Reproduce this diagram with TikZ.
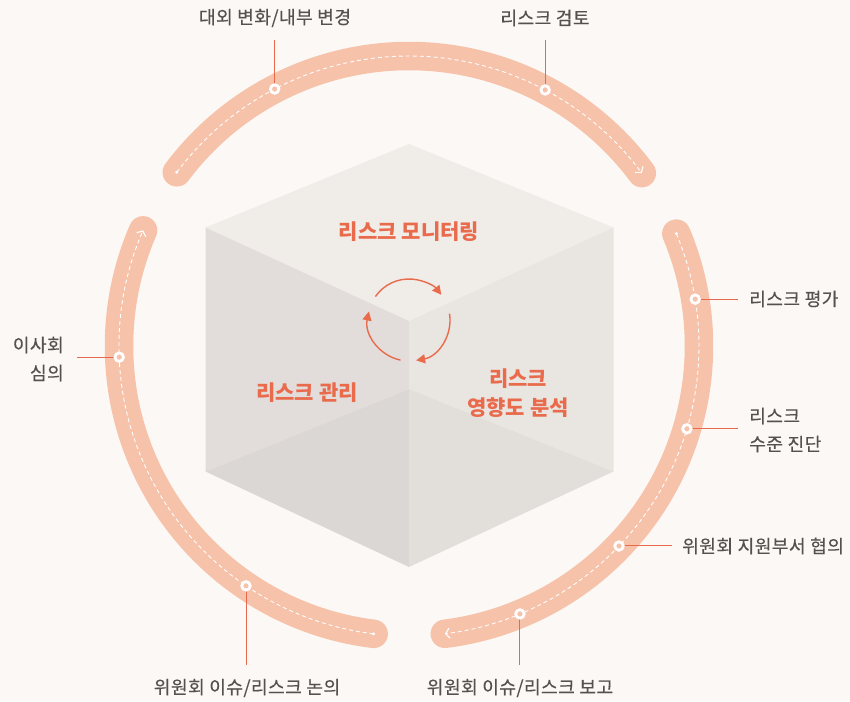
\documentclass[tikz,border=0pt]{standalone}
\usepackage{fontspec}
\newfontfamily\kr{Noto Sans CJK KR}
\newfontfamily\krm[FakeBold=0.35,LetterSpace=2]{Noto Sans CJK KR}
\usetikzlibrary{arrows.meta,calc}
\definecolor{bg}{HTML}{FCF8F5}
\definecolor{band}{HTML}{F6C2AA}
\definecolor{lead}{HTML}{E8694C}
\definecolor{txt}{HTML}{545250}
\definecolor{org}{HTML}{EA6A4C}
\definecolor{ftop}{HTML}{F0ECE8}
\definecolor{fleft}{HTML}{E2DDDA}
\definecolor{fright}{HTML}{E9E5E1}
\definecolor{flleft}{HTML}{DBD7D4}
\definecolor{flright}{HTML}{E2DEDA}
\begin{document}
\begin{tikzpicture}[x=1pt,y=-1pt,
  bandseg/.style={draw=band, line width=28.5pt, line cap=round},
  dashseg/.style={draw=white, line width=0.9pt, dash pattern=on 4pt off 3pt,
     -{Straight Barb[length=4pt,width=10pt,line width=1.1pt]}},
  mk/.style={circle, draw=white, line width=2.8pt, fill=band, minimum size=8.5pt, inner sep=0pt},
  ld/.style={draw=lead, line width=1pt},
  lbl/.style={text=txt, font=\krm\fontsize{18.2}{28}\selectfont, inner sep=0pt},
  cubetxt/.style={text=org, font=\kr\fontsize{21}{29}\selectfont\bfseries, inner sep=0pt, align=center},
  carr/.style={draw=org, line width=1.4pt, -{Triangle[length=9pt,width=9pt]}}]
\fill[bg] (0,0) rectangle (850,701);
\useasboundingbox (0,0) rectangle (850,701);

% cube
\coordinate (T) at (409,144);
\coordinate (LT) at (205.5,227.5);
\coordinate (RT) at (613.5,227.5);
\coordinate (Cc) at (409,321);
\coordinate (LB) at (205.5,471.5);
\coordinate (RB) at (613.5,471.5);
\coordinate (B) at (409,567);
\coordinate (M) at (409,389);
\fill[ftop] (T) -- (RT) -- (Cc) -- (LT) -- cycle;
\fill[fleft] (LT) -- (Cc) -- (M) -- (LB) -- cycle;
\fill[flleft] (LB) -- (M) -- (B) -- cycle;
\fill[fright] (Cc) -- (RT) -- (RB) -- (M) -- cycle;
\fill[flright] (M) -- (RB) -- (B) -- cycle;

% ring
\coordinate (O) at (409,346);
\foreach \a/\b in {-143.2/-36.6, -22.8/82.9, 97/203.5}{
  \draw[bandseg] ($(O)+(\a:290)$) arc[start angle=\a, end angle=\b, radius=290];
}
\foreach \a/\b in {-143.2/-36.6, -22.8/82.9, 97/203.5}{
  \draw[dashseg] ($(O)+(\a:290)$) arc[start angle=\a, end angle=\b, radius=290];
  \fill[white] ($(O)+(\a:290)$) circle (1.6);
}

% marker positions
\coordinate (p1) at ($(O)+(-117.6:290)$);
\coordinate (p2) at ($(O)+(-62.0:290)$);
\coordinate (p3) at ($(O)+(-182.2:290)$);
\coordinate (p4) at ($(O)+(-9.3:290)$);
\coordinate (p5) at ($(O)+(16.6:290)$);
\coordinate (p6) at ($(O)+(43.6:290)$);
\coordinate (p7) at ($(O)+(67.5:290)$);
\coordinate (p8) at ($(O)+(124.2:290)$);

% leader ends
\coordinate (e1) at (p1 |- 0,40);
\coordinate (e2) at (p2 |- 0,40);
\coordinate (e3) at (77,0 |- p3);
\coordinate (e4) at (738,0 |- p4);
\coordinate (e5) at (738,0 |- p5);
\coordinate (e6) at (672,0 |- p6);
\coordinate (e7) at (p7 |- 0,665);
\coordinate (e8) at (p8 |- 0,665);
\foreach \i in {1,...,8}{ \draw[ld] (p\i) -- (e\i); }
\foreach \i in {1,...,8}{ \node[mk] (m\i) at (p\i) {}; }

% labels
\node[lbl] (l1) at (275,18) {대외 변화/내부 변경};
\node[lbl] (l2) at (545,18) {리스크 검토};
\node[lbl, anchor=east, align=right] (l3) at (64,359) {이사회\\심의};
\node[lbl, anchor=west] (l4) at (749,299) {리스크 평가};
\node[lbl, anchor=west, align=left] (l5) at (749,430) {리스크\\수준 진단};
\node[lbl, anchor=west] (l6) at (682,546) {위원회 지원부서 협의};
\node[lbl] (l7) at (520,688) {위원회 이슈/리스크 보고};
\node[lbl] (l8) at (247,688) {위원회 이슈/리스크 논의};

% cube labels
\node[cubetxt] (t1) at (409,232) {리스크 모니터링};
\node[cubetxt] (t2) at (307,393) {리스크 관리};
\node[cubetxt] (t3) at (518,393) {리스크\\영향도 분석};

% cycle arrows
\coordinate (Q) at (409,320);
\draw[carr] ($(Q)+(-145:41)$) arc[start angle=-145, end angle=-38, radius=41];
\draw[carr] ($(Q)+(-9:41)$) arc[start angle=-9, end angle=80, radius=41];
\draw[carr] ($(Q)+(102:41)$) arc[start angle=102, end angle=192, radius=41];
\end{tikzpicture}
\end{document}
